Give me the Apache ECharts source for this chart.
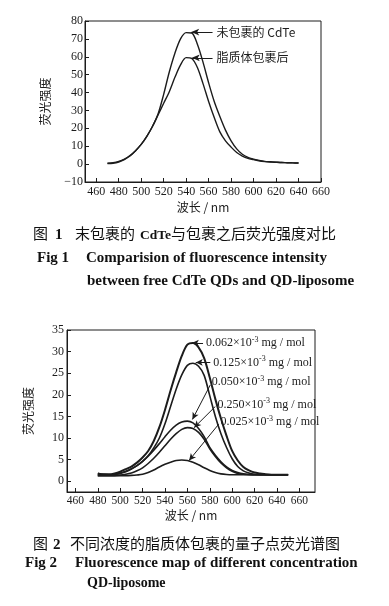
<!DOCTYPE html>
<html><head><meta charset="utf-8">
<script src="https://cdn.jsdelivr.net/npm/echarts@6/dist/echarts.min.js"></script>
<style>html,body{margin:0;padding:0;background:#fff}#c{width:389px;height:606px}</style>
</head><body><div id="c"></div>
<script>
// ---- Figure 1 data ----
const wave1 = [470,475,480,485,490,495,500,505,510,515,520,525,530,535,540,545,550,555,560,565,570,575,580,585,590,595,600,605,610,615,620,625,630,635,640];
const uncoated = [0.5,0.8,1.5,2.8,4.8,7.5,11,15.5,21,28,39,51.5,62,70,73.5,73.3,67,57,45.5,35,26.6,19,13,8.5,5.5,3.8,2.8,2.0,1.5,1.3,1.1,0.9,0.8,0.7,0.6];
const coated = [0.3,0.5,1.2,2.5,4.5,7.5,11,15.5,21,27.5,34,40.5,48.5,55.5,59.5,59,54,45,35,26,18,13,9.5,6.5,4.5,3.2,2.5,1.8,1.4,1.2,1.0,0.9,0.8,0.7,0.6];
const fig1Names = ['未包裹的 CdTe','脂质体包裹后'];
const xTicks1 = [460,480,500,520,540,560,580,600,620,640,660];
// annotation arrows: [tip x, tip y, tail x, tail y]
const fig1Arrows = [[544.5,73.8,563.5,73.8],[545,59.4,563.5,59.4]];

// ---- Figure 2 data ----
const wave2 = [480,485,490,495,500,505,510,515,520,525,530,535,540,545,550,555,560,565,570,575,580,585,590,595,600,605,610,615,620,625,630,635,640,645,650];
const c062 = [1.8,1.6,1.6,1.8,2.2,2.8,3.4,4.3,5.5,7,9.3,12.5,16.5,21,25.2,29,31.6,32,31,28.5,24,19,14.5,10.5,7,4.8,3.3,2.5,2.0,1.8,1.6,1.5,1.5,1.5,1.5];
const c125 = [1.8,1.6,1.5,1.6,1.9,2.3,2.9,3.6,4.6,5.9,7.7,10,13.3,17.3,21.3,24.6,26.8,27.3,26.6,24.5,19.8,15,11,7.8,5.2,3.4,2.4,1.9,1.6,1.5,1.5,1.5,1.5,1.5,1.5];
const c050 = [1.5,1.4,1.4,1.5,1.8,2.2,2.8,3.6,4.6,5.8,7.2,8.7,10.3,11.8,13,13.7,13.9,13.5,12.2,10.3,7.8,6,4.5,3.3,2.5,2,1.7,1.6,1.5,1.5,1.5,1.5,1.5,1.5,1.5];
const c250 = [1.3,1.3,1.3,1.3,1.4,1.6,1.9,2.4,3.1,4.1,5.3,6.7,8.2,9.7,11,12,12.4,12.2,11.3,9.7,7.5,5.7,4.2,3.1,2.3,1.8,1.6,1.5,1.5,1.5,1.5,1.5,1.5,1.5,1.5];
const c025 = [1.3,1.3,1.3,1.3,1.3,1.3,1.35,1.45,1.6,2.0,2.6,3.3,3.9,4.4,4.8,4.9,4.8,4.4,3.8,3.1,2.5,2.0,1.7,1.55,1.5,1.5,1.5,1.5,1.5,1.5,1.5,1.5,1.5,1.5,1.5];
const fig2Conc = ['0.062','0.125','0.050','0.250','0.025'];
const xTicks2 = [460,480,500,520,540,560,580,600,620,640,660];
const yTicks2 = [0,5,10,15,20,25,30,35];
const fig2Arrows = [[564,32,574,32],[567.5,27.5,580.5,27.5],[564.5,14.3,580.5,22.3],[566,12.4,585,17.3],[561.5,4.8,588,13.2]];

const serif = 'Liberation Serif';
const cjk = 'Noto Sans CJK SC';
const ink = '#1c1c1c';

function pairs(xs, ys){ return xs.map((x,i)=>[x, ys[i]]); }

function axisCommon(ticks){
  const tick = {show:true,inside:true,length:4,lineStyle:{color:ink}};
  if (ticks) tick.customValues = ticks;
  return {
    axisLine:{show:true,onZero:false,lineStyle:{color:ink,width:1}},
    axisTick:tick,
    splitLine:{show:false}
  };
}

const series = [];
const fig1Data = [uncoated, coated];
fig1Data.forEach((d,i)=>{
  const a = fig1Arrows[i];
  series.push({
    type:'line', xAxisIndex:0, yAxisIndex:0, data:pairs(wave1,d), smooth:0.3,
    showSymbol:false, lineStyle:{color:ink,width:1.4}, silent:true, animation:false,
    markLine:{
      silent:true, animation:false, symbol:['arrow','none'], symbolSize:[5,8],
      lineStyle:{color:ink,width:1,type:'solid'},
      label:{show:true,position:'end',align:'left',verticalAlign:'middle',distance:4,
        color:ink,fontSize:12,fontFamily:cjk+','+serif,formatter:p=>p.name},
      data:[[{coord:[a[0],a[1]],name:fig1Names[i]},{coord:[a[2],a[3]]}]]
    }
  });
});
const fig2Data = [c062,c125,c050,c250,c025];
fig2Data.forEach((d,i)=>{
  const a = fig2Arrows[i];
  series.push({
    type:'line', xAxisIndex:1, yAxisIndex:1, data:pairs(wave2,d), smooth:0.3,
    showSymbol:false, lineStyle:{color:ink,width:i===0?2:1.6}, silent:true, animation:false,
    markLine:{
      silent:true, animation:false, symbol:['arrow','none'], symbolSize:[5,7],
      lineStyle:{color:ink,width:1,type:'solid'},
      label:{show:true,position:'end',align:'left',verticalAlign:'middle',distance:3,
        color:ink,fontFamily:serif,
        formatter:p=>'{n|'+p.name+'×10}{s|-3}{n| mg / mol}',
        rich:{n:{fontSize:12,fontFamily:serif,color:ink,lineHeight:14},
              s:{fontSize:8,fontFamily:serif,color:ink,verticalAlign:'top',lineHeight:14}}},
      data:[[{coord:[a[0],a[1]],name:fig2Conc[i]},{coord:[a[2],a[3]]}]]
    }
  });
});

function txt(x,y,text,size,opts){
  return {type:'text',x:x,y:y,silent:true,
    style:Object.assign({text:text,fontSize:size,fill:'#111',fontFamily:cjk,verticalAlign:'middle',align:'left'},opts||{})};
}
const bold = {fontFamily:serif,fontWeight:'bold'};

const option = {
  animation:false,
  backgroundColor:'#fff',
  grid:[
    {left:85,top:21,width:236,height:161,show:true,borderColor:ink,borderWidth:1,backgroundColor:'transparent'},
    {left:67,top:330,width:248,height:162,show:true,borderColor:ink,borderWidth:1,backgroundColor:'transparent'}
  ],
  xAxis:[
    Object.assign({type:'value',gridIndex:0,min:450,max:660,
      name:'波长 / nm',nameLocation:'middle',nameGap:19,
      nameTextStyle:{fontSize:12,fontFamily:cjk,color:ink},
      axisLabel:{customValues:xTicks1,fontSize:12,fontFamily:serif,color:ink,margin:4}},axisCommon(xTicks1)),
    Object.assign({type:'value',gridIndex:1,min:452.5,max:674,
      name:'波长 / nm',nameLocation:'middle',nameGap:17,
      nameTextStyle:{fontSize:12,fontFamily:cjk,color:ink},
      axisLabel:{customValues:xTicks2,fontSize:11.5,fontFamily:serif,color:ink,margin:3}},axisCommon(xTicks2))
  ],
  yAxis:[
    Object.assign({type:'value',gridIndex:0,min:-10,max:80,interval:10,
      name:'荧光强度',nameLocation:'middle',nameRotate:90,nameGap:34,
      nameTextStyle:{fontSize:12,fontFamily:cjk,color:ink},
      axisLabel:{fontSize:12,fontFamily:serif,color:ink,margin:2,formatter:v=>v<0?'−'+Math.abs(v):String(v)}},axisCommon(null)),
    Object.assign({type:'value',gridIndex:1,min:-2.5,max:35,
      name:'荧光强度',nameLocation:'middle',nameRotate:90,nameGap:33,
      nameTextStyle:{fontSize:12,fontFamily:cjk,color:ink},
      axisLabel:{customValues:yTicks2,fontSize:12,fontFamily:serif,color:ink,margin:3}},axisCommon(yTicks2))
  ],
  series:series,
  graphic:[
    txt(33,233,'图',15),
    txt(55,235.5,'1',15,bold),
    txt(75,233,'末包裹的',15),
    txt(140,235.5,'CdTe',13.5,bold),
    txt(171,233,'与包裹之后荧光强度对比',15),
    txt(37,258,'Fig 1',15,bold),
    txt(86,258,'Comparision of fluorescence intensity',15,bold),
    txt(87,281,'between free CdTe QDs and QD-liposome',15,bold),
    txt(33,543,'图',15),
    txt(53,545.5,'2',15,bold),
    txt(70,543,'不同浓度的脂质体包裹的量子点荧光谱图',15),
    txt(25,563,'Fig 2',15,bold),
    txt(75,563,'Fluorescence map of different concentration',15,bold),
    txt(87,583,'QD-liposome',14,bold)
  ]
};
const chart = echarts.init(document.getElementById('c'),null,{renderer:'canvas'});
chart.setOption(option);
</script></body></html>
